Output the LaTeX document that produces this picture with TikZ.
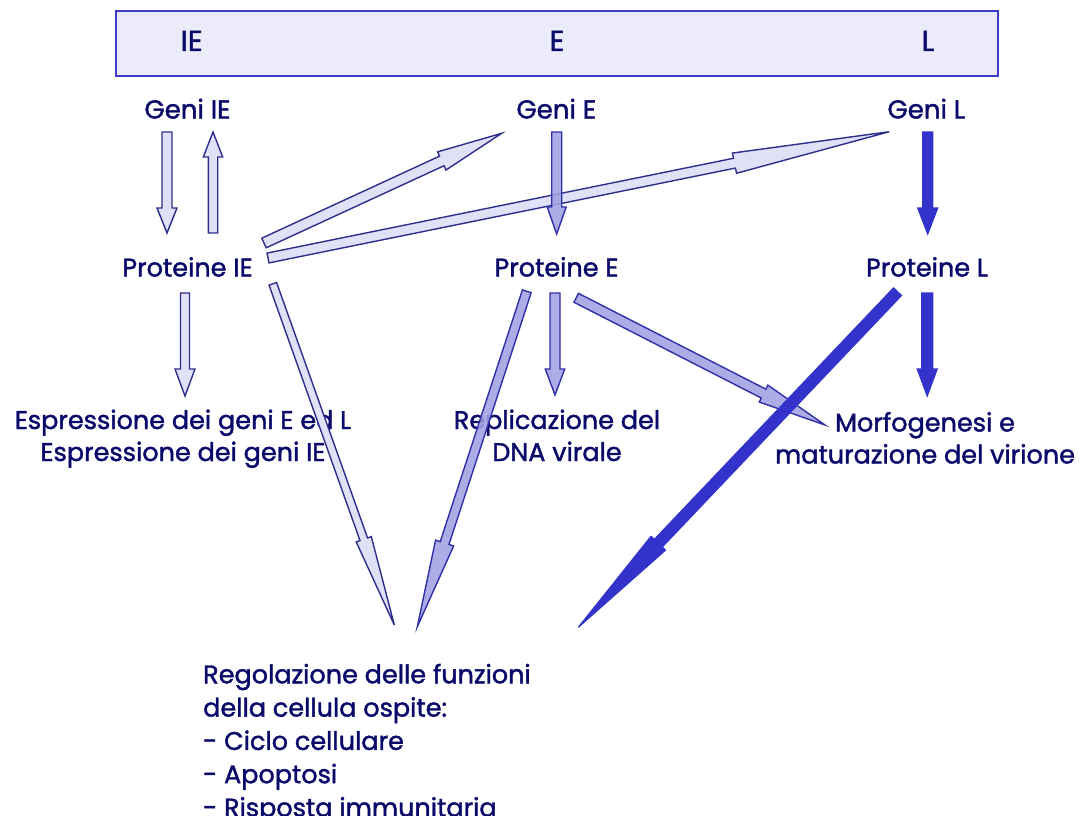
\documentclass[tikz,border=0pt]{standalone}
\usepackage{fontspec}
\setmainfont{Poppins}[FakeBold=1.6]
\usetikzlibrary{calc}
\definecolor{navy}{HTML}{0A0A6B}
\definecolor{lfill}{HTML}{E0E0F7}
\definecolor{lline}{HTML}{2E2E8C}
\definecolor{mfill}{HTML}{A0A0E4}
\definecolor{mline}{HTML}{3030A8}
\definecolor{dfill}{HTML}{3333CC}
\definecolor{bfill}{HTML}{EBEBF9}
\definecolor{bline}{HTML}{3C3CC8}
\tikzset{
  lbl/.style={text=navy,inner sep=0pt,anchor=base,font=\fontsize{25.5}{32}\selectfont},
  geni/.style={lbl,font=\fontsize{26}{32}\selectfont},
  phase/.style={lbl,font=\fontsize{29}{32}\selectfont},
  larrow/.style={draw=lline,fill=lfill,line width=1.4pt,line join=miter},
  marrow/.style={draw=mline,fill=mfill,fill opacity=0.88,line width=1.4pt,line join=miter},
  darrow/.style={draw=dfill,fill=dfill,line width=1.2pt,line join=miter},
}
% block arrow: style, from, to, half shaft width, half head width, head length
\newcommand\barrow[6]{%
  \coordinate (ba-b) at ($(#3)!#6!(#2)$);
  \draw[#1] ($(#2)!#4!90:(#3)$) -- ($(ba-b)!#4!90:(#3)$) -- ($(ba-b)!#5!90:(#3)$)
    -- (#3) -- ($(ba-b)!#5!-90:(#3)$) -- ($(ba-b)!#4!-90:(#3)$) -- ($(#2)!#4!-90:(#3)$) -- cycle;
}
\begin{document}
\begin{tikzpicture}[x=1pt,y=-1pt]
\useasboundingbox (0,0) rectangle (1085,816);
% banner
\node[draw=bline,fill=bfill,line width=1.6pt,minimum width=882pt,minimum height=65pt,inner sep=0pt,anchor=north west] (banner) at (115,10) {};
\node[phase] (phIE) at (191.7,51) {IE};
\node[phase] (phE) at (557,51) {E};
\node[phase] (phL) at (928,51) {L};
% labels
\node[geni] (gIE) at (187.5,118.5) {Geni IE};
\node[geni] (gE) at (556.3,118.5) {Geni E};
\node[geni] (gL) at (926.3,118.5) {Geni L};
\node[lbl] (pIE) at (187.5,276.5) {Proteine IE};
\node[lbl] (pE) at (556.5,276.5) {Proteine E};
\node[lbl] (pL) at (927,276.5) {Proteine L};
% multi-line nodes: base anchor is the last line's baseline
\node[lbl,align=center] (espr) at (183,461) {Espressione dei geni E ed L\\Espressione dei geni IE};
\node[lbl,align=center] (repl) at (557,461) {Replicazione del\\DNA virale};
\node[lbl,align=center] (morf) at (925,463.5) {Morfogenesi e\\maturazione del virione};
\node[lbl,align=left,anchor=base west,font=\fontsize{25.5}{33.3}\selectfont] (reg) at (203,816.5)
  {Regolazione delle funzioni\\della cellula ospite:\\- Ciclo cellulare\\- Apoptosi\\- Risposta immunitaria};
% arrow end points
\coordinate (a1s) at (167,132);   \coordinate (a1e) at (167,233);
\coordinate (a2s) at (213,233);   \coordinate (a2e) at (213,132);
\coordinate (a3s) at (264,243);   \coordinate (a3e) at (501.7,133.3);
\coordinate (a4s) at (268,258);   \coordinate (a4e) at (889.3,131.7);
\coordinate (a5s) at (556.7,132); \coordinate (a5e) at (556.7,234);
\coordinate (a6s) at (927.7,132); \coordinate (a6e) at (927.7,234);
\coordinate (a7s) at (185,293);   \coordinate (a7e) at (185,396);
\coordinate (a8s) at (272.8,283.8); \coordinate (a8e) at (394.3,625);
\coordinate (a9s) at (526.8,291.3); \coordinate (a9e) at (417.3,626.7);
\coordinate (a10s) at (555,293);  \coordinate (a10e) at (555,395);
\coordinate (a11s) at (576.2,297.8); \coordinate (a11e) at (825,425);
\coordinate (a12s) at (897.5,291.7); \coordinate (a12e) at (578.3,627.3);
\coordinate (a13s) at (927.2,293); \coordinate (a13e) at (927.2,396);
% light (IE) arrows
\barrow{larrow}{a1s}{a1e}{5pt}{10pt}{25pt}
\barrow{larrow}{a2s}{a2e}{4.7pt}{9.7pt}{25pt}
\barrow{larrow}{a4s}{a4e}{5pt}{10.3pt}{158pt}
\barrow{larrow}{a3s}{a3e}{5.3pt}{10pt}{66pt}
\barrow{larrow}{a7s}{a7e}{4.5pt}{10pt}{27pt}
\barrow{larrow}{a8s}{a8e}{4pt}{8pt}{91pt}
% medium (E) arrows
\barrow{marrow}{a5s}{a5e}{5pt}{9.5pt}{27pt}
\barrow{marrow}{a9s}{a9e}{4.6pt}{9.5pt}{88pt}
\barrow{marrow}{a10s}{a10e}{5pt}{9.7pt}{26pt}
\barrow{marrow}{a11s}{a11e}{5pt}{9.5pt}{69pt}
% dark (L) arrows
\barrow{darrow}{a6s}{a6e}{5pt}{10pt}{26pt}
\barrow{darrow}{a12s}{a12e}{5.5pt}{10pt}{116pt}
\barrow{darrow}{a13s}{a13e}{5.5pt}{10pt}{27pt}
\end{tikzpicture}
\end{document}
